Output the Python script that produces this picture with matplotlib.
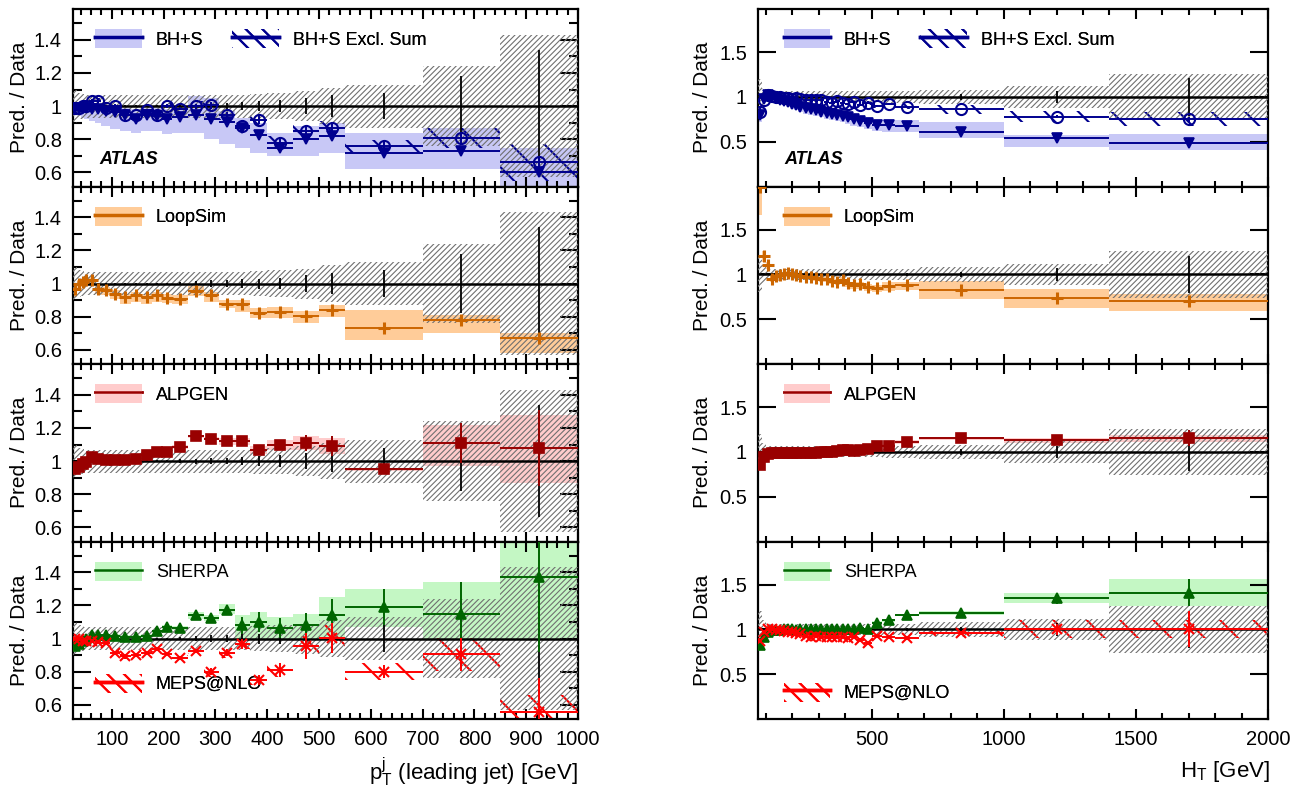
import numpy as np
import matplotlib
matplotlib.use("Agg")
import matplotlib.pyplot as plt
from matplotlib.patches import Patch
from matplotlib.lines import Line2D
from matplotlib.ticker import MultipleLocator, FixedLocator, FuncFormatter

plt.rcParams['font.family'] = ['Liberation Sans', 'DejaVu Sans']
plt.rcParams['mathtext.fontset'] = 'custom'
plt.rcParams['mathtext.rm'] = 'Liberation Sans'
plt.rcParams['mathtext.it'] = 'Liberation Sans:italic'
plt.rcParams['hatch.linewidth'] = 0.8

# ---------------- leading-jet pT (left column) ----------------
pt_edges = [25, 32, 40, 47, 55, 67, 80, 97, 115, 137, 157, 177, 197, 217, 247,
            277, 307, 337, 367, 400, 450, 500, 550, 700, 850, 1000]
pt_syst = [0.1, 0.08, 0.075, 0.07, 0.07, 0.07, 0.07, 0.07, 0.07, 0.07, 0.07, 0.07, 0.07,
           0.07, 0.07, 0.07, 0.07, 0.07, 0.075, 0.08, 0.09, 0.11, 0.13, 0.24, 0.43]
pt_stat = [0.005] * 13 + [0.01, 0.015, 0.02, 0.02, 0.025, 0.03, 0.035, 0.05, 0.065, 0.08, 0.18, 0.34]

pt_bhs = [0.99, 0.99, 0.99, 0.99, 0.98, 0.98, 0.97, 0.965, 0.945, 0.925, 0.945, 0.94, 0.925,
          0.935, 0.945, 0.925, 0.905, 0.865, 0.825, 0.75, 0.80, 0.82, 0.72, 0.73, 0.60]
pt_bhs_lo = [0.95, 0.94, 0.93, 0.92, 0.91, 0.9, 0.88, 0.86, 0.85, 0.84, 0.85, 0.85, 0.83,
             0.84, 0.84, 0.80, 0.77, 0.75, 0.72, 0.70, 0.70, 0.72, 0.62, 0.62, 0.50]
pt_bhs_hi = [1.02, 1.02, 1.02, 1.02, 1.02, 1.01, 1.0, 1.0, 0.99, 0.98, 0.99, 0.99, 0.98,
             0.99, 1.06, 1.05, 0.97, 0.93, 0.90, 0.84, 0.88, 0.90, 0.84, 0.87, 0.75]
pt_bhs_err = [0.01] * 14 + [0.015, 0.02, 0.02, 0.02, 0.025, 0.03, 0.03, 0.03, 0.03, 0.03, 0.03]

pt_excl = [0.99, 0.99, 1.0, 1.0, 1.03, 1.03, 0.99, 1.0, 0.945, 0.945, 0.975, 0.945, 1.0,
           0.985, 1.0, 1.005, 0.945, 0.88, 0.915, 0.78, 0.85, 0.87, 0.76, 0.81, 0.66]
pt_excl_unc = [0.02] * 14 + [0.03, 0.03, 0.03, 0.03, 0.03, 0.04, 0.04, 0.04, 0.035, 0.06, 0.11]
pt_excl_err = [0.01] * 14 + [0.015, 0.02, 0.02, 0.02, 0.025, 0.03, 0.03, 0.03, 0.03, 0.03, 0.03]

pt_loop = [0.97, 1.0, 1.01, 1.02, 1.02, 0.97, 0.96, 0.94, 0.92, 0.93, 0.92, 0.93, 0.915,
           0.91, 0.955, 0.93, 0.88, 0.88, 0.82, 0.83, 0.805, 0.84, 0.735, 0.78, 0.67]
pt_loop_lo = [0.92, 0.97, 0.98, 0.99, 0.99, 0.94, 0.93, 0.91, 0.88, 0.89, 0.88, 0.89, 0.885,
              0.88, 0.925, 0.89, 0.85, 0.83, 0.79, 0.79, 0.765, 0.80, 0.66, 0.70, 0.58]
pt_loop_hi = [1.0, 1.02, 1.03, 1.04, 1.04, 0.99, 0.98, 0.96, 0.94, 0.95, 0.94, 0.95, 0.935,
              0.93, 0.985, 0.95, 0.90, 0.90, 0.85, 0.86, 0.835, 0.87, 0.84, 0.81, 0.70]
pt_loop_err = [0.01] * 14 + [0.01, 0.01, 0.01, 0.01, 0.015, 0.015, 0.015, 0.015, 0.015, 0.02, 0.02]

pt_alp = [0.955, 0.965, 0.985, 0.995, 1.025, 1.015, 1.005, 1.005, 1.005, 1.015, 1.035, 1.055,
          1.055, 1.085, 1.15, 1.135, 1.12, 1.12, 1.065, 1.10, 1.11, 1.09, 0.95, 1.11, 1.08]
pt_alp_lo = [0.945, 0.955, 0.975, 0.985, 1.015, 1.005, 0.995, 0.995, 0.995, 1.005, 1.025, 1.045,
             1.045, 1.075, 1.14, 1.125, 1.10, 1.10, 1.04, 1.07, 1.07, 1.04, 0.94, 0.97, 0.87]
pt_alp_hi = [0.965, 0.975, 0.995, 1.005, 1.035, 1.025, 1.015, 1.015, 1.015, 1.025, 1.045, 1.065,
             1.065, 1.095, 1.16, 1.145, 1.14, 1.14, 1.09, 1.13, 1.15, 1.14, 0.96, 1.22, 1.28]
pt_alp_err = [0.005] * 13 + [0.01, 0.01, 0.015, 0.02, 0.02, 0.02, 0.03, 0.05, 0.06, 0.03, 0.12, 0.23]

pt_sh = [0.955, 0.965, 0.985, 1.0, 1.02, 1.02, 1.02, 1.015, 1.01, 1.01, 1.015, 1.045, 1.07,
         1.065, 1.14, 1.125, 1.175, 1.08, 1.10, 1.065, 1.08, 1.14, 1.19, 1.15, 1.37]
pt_sh_lo = [0.945, 0.955, 0.975, 0.99, 1.01, 1.01, 1.01, 1.005, 1.0, 1.0, 1.005, 1.035, 1.06,
            1.055, 1.12, 1.105, 1.15, 1.0, 1.0, 1.0, 1.0, 1.0, 1.07, 1.0, 1.0]
pt_sh_hi = [0.965, 0.975, 0.995, 1.01, 1.03, 1.03, 1.03, 1.025, 1.02, 1.02, 1.025, 1.055, 1.08,
            1.075, 1.16, 1.145, 1.21, 1.14, 1.16, 1.13, 1.15, 1.25, 1.30, 1.34, 1.62]
pt_sh_err = [0.005] * 12 + [0.01, 0.01, 0.015, 0.02, 0.03, 0.05, 0.06, 0.06, 0.075, 0.1, 0.11, 0.19, 0.45]

pt_mp = [0.995, 0.995, 0.985, 0.985, 0.985, 0.98, 0.975, 0.915, 0.895, 0.90, 0.915, 0.935, 0.905,
         0.885, 0.925, 0.80, 0.915, 0.965, 0.75, 0.81, 0.955, 1.005, 0.80, 0.905, 0.56]
pt_mp_unc = [0.015] * 14 + [0.02, 0.03, 0.03, 0.03, 0.03, 0.04, 0.06, 0.08, 0.05, 0.1, 0.1]
pt_mp_err = [0.005] * 13 + [0.01, 0.01, 0.02, 0.02, 0.03, 0.03, 0.04, 0.08, 0.09, 0.04, 0.1, 0.2]

# ---------------- HT (right column) ----------------
ht_edges = [70, 85, 100, 115, 130, 145, 160, 175, 190, 205, 220, 240, 260, 280, 300,
            320, 340, 360, 380, 400, 420, 445, 470, 500, 540, 590, 680, 1000, 1400, 2000]
ht_syst = [0.2, 0.1, 0.07] + [0.06] * 21 + [0.065, 0.065, 0.08, 0.12, 0.26]
ht_stat = [0.003] * 25 + [0.015, 0.03, 0.07, 0.21]

ht_bhs = [0.80, 0.98, 1.02, 1.0, 0.99, 0.97, 0.955, 0.94, 0.925, 0.91, 0.89, 0.875, 0.86, 0.85,
          0.835, 0.82, 0.81, 0.80, 0.785, 0.77, 0.75, 0.73, 0.71, 0.69, 0.685, 0.68, 0.61, 0.545, 0.48]
ht_bhs_lo = [0.72, 0.93, 0.97, 0.96, 0.95, 0.93, 0.91, 0.89, 0.87, 0.85, 0.83, 0.81, 0.80, 0.79,
             0.77, 0.75, 0.74, 0.73, 0.72, 0.70, 0.68, 0.66, 0.64, 0.62, 0.61, 0.61, 0.54, 0.44, 0.41]
ht_bhs_hi = [0.88, 1.03, 1.06, 1.04, 1.03, 1.01, 1.0, 0.98, 0.97, 0.95, 0.93, 0.92, 0.91, 0.90,
             0.88, 0.87, 0.86, 0.85, 0.84, 0.82, 0.81, 0.79, 0.77, 0.75, 0.75, 0.74, 0.72, 0.57, 0.59]
ht_bhs_err = [0.06] + [0.01] * 24 + [0.01, 0.01, 0.02, 0.03]

ht_excl = [0.83, 0.97, 1.02, 1.01, 1.0, 1.0, 0.99, 0.99, 0.98, 0.99, 0.98, 0.97, 0.97, 0.96,
           0.97, 0.94, 0.93, 0.95, 0.93, 0.92, 0.94, 0.91, 0.93, 0.90, 0.92, 0.89, 0.86, 0.78, 0.75]
ht_excl_unc = [0.05] + [0.02] * 24 + [0.03, 0.05, 0.06, 0.08]
ht_excl_err = [0.06] + [0.01] * 24 + [0.01, 0.01, 0.02, 0.03]

ht_loop = [1.97, 1.20, 1.10, 0.95, 0.98, 0.99, 1.0, 1.01, 1.0, 0.99, 0.98, 0.97, 0.97, 0.96,
           0.95, 0.95, 0.93, 0.92, 0.94, 0.90, 0.88, 0.89, 0.86, 0.85, 0.87, 0.88, 0.83, 0.74, 0.70]
ht_loop_lo = [1.66, 1.14, 1.06, 0.92, 0.95, 0.96, 0.97, 0.98, 0.97, 0.96, 0.95, 0.94, 0.94, 0.93,
              0.92, 0.91, 0.89, 0.88, 0.90, 0.86, 0.84, 0.84, 0.81, 0.80, 0.81, 0.82, 0.73, 0.63, 0.59]
ht_loop_hi = [2.0, 1.26, 1.14, 0.98, 1.01, 1.02, 1.03, 1.04, 1.03, 1.02, 1.01, 1.0, 1.0, 0.99,
              0.98, 0.98, 0.96, 0.95, 0.97, 0.93, 0.91, 0.92, 0.89, 0.88, 0.91, 0.92, 0.93, 0.84, 0.78]
ht_loop_err = [0.05, 0.05, 0.03] + [0.01] * 22 + [0.01, 0.01, 0.02, 0.03]

ht_alp = [0.85, 0.94, 0.98, 0.99, 0.99, 0.99, 0.99, 0.99, 0.99, 0.99, 0.99, 0.99, 0.99, 0.99,
          1.0, 1.0, 1.0, 1.01, 1.02, 1.02, 1.01, 1.02, 1.03, 1.07, 1.07, 1.11, 1.15, 1.13, 1.15]
ht_alp_unc = [0.03] + [0.015] * 24 + [0.02, 0.02, 0.03, 0.04]
ht_alp_err = [0.04] + [0.005] * 24 + [0.01, 0.01, 0.03, 0.09]

ht_sh = [0.83, 0.92, 0.97, 0.99, 0.99, 0.99, 1.0, 1.0, 1.0, 0.99, 1.0, 1.0, 1.0, 1.0, 1.0,
         1.0, 1.0, 1.0, 1.0, 1.0, 1.0, 1.01, 1.0, 1.075, 1.10, 1.16, 1.185, 1.345, 1.41]
ht_sh_unc = [0.03] + [0.015] * 25 + [0.02, 0.055, 0.15]
ht_sh_err = [0.03] + [0.005] * 24 + [0.01, 0.02, 0.06, 0.15]

ht_mp = [0.87, 0.97, 1.0, 1.0, 0.99, 0.99, 0.98, 0.97, 0.97, 0.96, 0.95, 0.93, 0.92, 0.93, 0.91,
         0.92, 0.91, 0.92, 0.91, 0.90, 0.91, 0.88, 0.85, 0.93, 0.92, 0.90, 0.955, 1.0, 1.0]
ht_mp_unc = [0.03] + [0.02] * 24 + [0.02, 0.03, 0.1, 0.1]
ht_mp_err = [0.03] + [0.01] * 24 + [0.01, 0.02, 0.06, 0.2]

NAVY, LBLUE = '#00008f', '#c8c8f6'
ORANGE, LORANGE = '#cc6600', '#ffcc99'
DRED, PINK = '#990000', '#ffcccc'
DGREEN, LGREEN = '#006600', '#c4f7c4'
RED = '#ff0000'
GREY = '#707070'


def centers(edges):
    e = np.asarray(edges, float)
    return (e[1:] + e[:-1]) / 2, (e[1:] - e[:-1]) / 2


def band(ax, edges, lo, hi, **kw):
    lo, hi = np.asarray(lo, float), np.asarray(hi, float)
    ax.fill_between(edges, np.append(lo, lo[-1]), np.append(hi, hi[-1]), step='post', **kw)


def hatched(ax, edges, lo, hi, color, hatch, lw, z):
    with plt.rc_context({'hatch.linewidth': lw}):
        band(ax, edges, lo, hi, facecolor='none', edgecolor=color, hatch=hatch, lw=0, zorder=z)


def points(ax, edges, vals, err, color, marker, ms, mfc=None, mew=1.2, lw=1.4):
    c, hw = centers(edges)
    ax.errorbar(c, vals, xerr=hw, yerr=err, fmt=marker, color=color, ms=ms,
                mfc=color if mfc is None else mfc, mec=color, mew=mew,
                elinewidth=lw, capsize=0, zorder=6)


def data(ax, edges, syst, stat):
    c, _ = centers(edges)
    s = np.asarray(syst)
    hatched(ax, edges, 1 - s, 1 + s, GREY, '//////', 0.8, 3)
    ax.axhline(1, color='k', lw=1.8, zorder=4)
    ax.errorbar(c, np.ones_like(c), yerr=stat, fmt='none', ecolor='k', elinewidth=1.3, zorder=4)


def style(ax, xlim, ylim, xmaj, xmin, ymaj, ymin):
    ax.set_xlim(*xlim)
    ax.set_ylim(*ylim)
    ax.xaxis.set_major_locator(MultipleLocator(xmaj))
    ax.xaxis.set_minor_locator(MultipleLocator(xmin))
    ax.yaxis.set_major_locator(FixedLocator(ymaj))
    if ymin:
        ax.yaxis.set_minor_locator(MultipleLocator(ymin))
    ax.yaxis.set_major_formatter(FuncFormatter(lambda v, p: f'{v:g}'))
    ax.tick_params(which='both', direction='in', top=True, right=True, width=1.5,
                   labelsize=14.5, pad=8)
    ax.tick_params(axis='y', which='major', length=13)
    ax.tick_params(axis='y', which='minor', length=6.5)
    ax.tick_params(axis='x', which='major', length=7.5)
    ax.tick_params(axis='x', which='minor', length=4)
    for sp in ax.spines.values():
        sp.set_linewidth(1.6)


def leg(ax, handles, labels, x, y, ncol=1):
    with plt.rc_context({'hatch.linewidth': 1.5}):
        l = ax.legend(handles, labels, loc='center left', bbox_to_anchor=(x, y), ncol=ncol,
                      frameon=False, fontsize=13, handlelength=2.6, handleheight=1.25,
                      handletextpad=0.75, columnspacing=1.6, borderaxespad=0, borderpad=0)
    ax.add_artist(l)


def h_band(fc, lc, lw=2.5):
    return (Patch(facecolor=fc, edgecolor='none'), Line2D([], [], color=lc, lw=lw))


def h_hatch(lc):
    with plt.rc_context({'hatch.linewidth': 1.5}):
        p = Patch(facecolor='none', edgecolor=lc, hatch='\\\\', lw=0)
    return (p, Line2D([], [], color=lc, lw=2.5))


fig = plt.figure(figsize=(13.01, 7.93), dpi=100)
H = 710 / 4 / 793
B0 = 1 - 719 / 793
cols = [(73 / 1301, 505 / 1301), (758 / 1301, 510 / 1301)]
axes = [[fig.add_axes([x0, B0 + (3 - i) * H, w, H]) for i in range(4)] for x0, w in cols]

sets = [
    dict(edges=pt_edges, syst=pt_syst, stat=pt_stat, xlim=(25, 1000), ylim=(0.515, 1.586),
         xmaj=100, xmin=20, ymaj=[0.6, 0.8, 1.0, 1.2, 1.4], ymin=0.1,
         bhs=(pt_bhs, pt_bhs_lo, pt_bhs_hi, pt_bhs_err),
         excl=(pt_excl, pt_excl_unc, pt_excl_err),
         loop=(pt_loop, pt_loop_lo, pt_loop_hi, pt_loop_err),
         alp=(pt_alp, pt_alp_lo, pt_alp_hi, pt_alp_err),
         sh=(pt_sh, pt_sh_lo, pt_sh_hi, pt_sh_err),
         mp=(pt_mp, pt_mp_unc, pt_mp_err), mpy=0.2, lx=0.044),
    dict(edges=ht_edges, syst=ht_syst, stat=ht_stat, xlim=(70, 2000), ylim=(0.0, 1.98),
         xmaj=500, xmin=100, ymaj=[0.5, 1.0, 1.5], ymin=None,
         bhs=(ht_bhs, ht_bhs_lo, ht_bhs_hi, ht_bhs_err),
         excl=(ht_excl, ht_excl_unc, ht_excl_err),
         loop=(ht_loop, ht_loop_lo, ht_loop_hi, ht_loop_err),
         alp=(ht_alp, np.subtract(ht_alp, ht_alp_unc), np.add(ht_alp, ht_alp_unc), ht_alp_err),
         sh=(ht_sh, np.subtract(ht_sh, ht_sh_unc), np.add(ht_sh, ht_sh_unc), ht_sh_err),
         mp=(ht_mp, ht_mp_unc, ht_mp_err), mpy=0.15, lx=0.05),
]

for col, d in zip(axes, sets):
    e = d['edges']
    a1, a2, a3, a4 = col
    # BH+S
    v, lo, hi, er = d['bhs']
    band(a1, e, lo, hi, color=LBLUE, lw=0, zorder=1)
    v2, u2, er2 = d['excl']
    hatched(a1, e, np.subtract(v2, u2), np.add(v2, u2), NAVY, '\\', 1.5, 2)
    data(a1, e, d['syst'], d['stat'])
    points(a1, e, v, er, NAVY, 'v', 6.5)
    points(a1, e, v2, er2, NAVY, 'o', 8, mfc='none', mew=1.5)
    # LoopSim
    v, lo, hi, er = d['loop']
    band(a2, e, lo, hi, color=LORANGE, lw=0, zorder=1)
    data(a2, e, d['syst'], d['stat'])
    points(a2, e, v, er, ORANGE, '+', 8, mew=2.2)
    # ALPGEN
    v, lo, hi, er = d['alp']
    band(a3, e, lo, hi, color=PINK, lw=0, zorder=1)
    data(a3, e, d['syst'], d['stat'])
    points(a3, e, v, er, DRED, 's', 6.5)
    # SHERPA + MEPS@NLO
    v, lo, hi, er = d['sh']
    band(a4, e, lo, hi, color=LGREEN, lw=0, zorder=1)
    v2, u2, er2 = d['mp']
    hatched(a4, e, np.subtract(v2, u2), np.add(v2, u2), RED, '\\', 1.5, 2)
    data(a4, e, d['syst'], d['stat'])
    points(a4, e, v, er, DGREEN, '^', 6.5)
    points(a4, e, v2, er2, RED, 'x', 7, mew=1.5)

    for ax in col:
        style(ax, d['xlim'], d['ylim'], d['xmaj'], d['xmin'], d['ymaj'], d['ymin'])
        ax.set_ylabel('Pred. / Data', fontsize=15)
    for ax in col[:3]:
        ax.tick_params(labelbottom=False)

    lx = d['lx']
    leg(a1, [h_band(LBLUE, NAVY), h_hatch(NAVY)], ['BH+S', 'BH+S Excl. Sum'], lx, 0.83, ncol=2)
    leg(a2, [h_band(LORANGE, ORANGE)], ['LoopSim'], lx, 0.83)
    leg(a3, [h_band(PINK, DRED, 1.8)], ['ALPGEN'], lx, 0.83)
    leg(a4, [h_band(LGREEN, DGREEN, 1.8)], ['SHERPA'], lx, 0.83)
    leg(a4, [h_hatch(RED)], ['MEPS@NLO'], lx, d['mpy'])
    a1.text(0.052, 0.15, 'ATLAS', transform=a1.transAxes, fontsize=13,
            fontweight='bold', fontstyle='italic', va='center')

for ax in axes[0]:
    ax.yaxis.set_label_coords(-0.087, 0.5)
for ax in axes[1]:
    ax.yaxis.set_label_coords(-0.09, 0.5)

fig.text(578 / 1301, 1 - 772 / 793, r'$\mathrm{p}_{\mathrm{T}}^{\mathrm{j}}$ (leading jet) [GeV]',
         ha='right', va='center', fontsize=16)
fig.text(1270 / 1301, 1 - 772 / 793, r'$\mathrm{H}_{\mathrm{T}}$ [GeV]',
         ha='right', va='center', fontsize=16)

fig.savefig('out.png', dpi=100)
